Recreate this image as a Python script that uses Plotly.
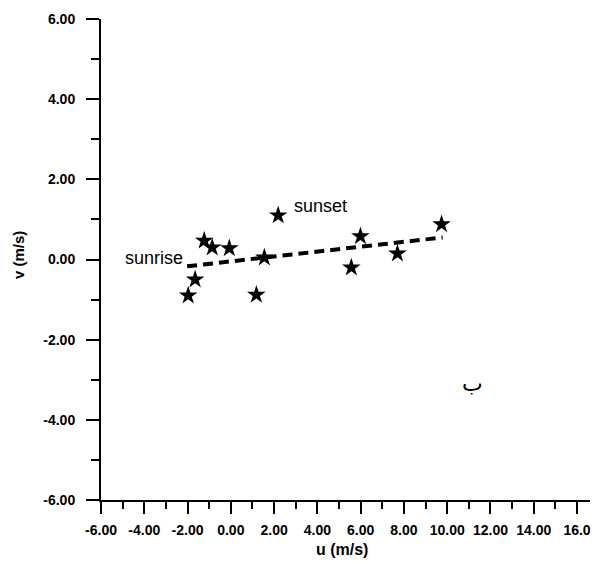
import plotly.graph_objects as go

# data
u_vals = [-1.97, -1.65, -1.23, -0.86, -0.07, 1.18, 1.55, 2.19, 5.57, 5.99, 7.70, 9.74]
v_vals = [-0.90, -0.50, 0.47, 0.30, 0.28, -0.88, 0.05, 1.10, -0.20, 0.58, 0.15, 0.88]
fit_u = [-2.02, 9.79]
fit_v = [-0.17, 0.55]

x_tickvals = [-6, -4, -2, 0, 2, 4, 6, 8, 10, 12, 14, 16]
x_ticktext = ["-6.00", "-4.00", "-2.00", "0.00", "2.00", "4.00", "6.00", "8.00",
              "10.00", "12.00", "14.00", "16.0"]
y_tickvals = [-6, -4, -2, 0, 2, 4, 6]
y_ticktext = ["-6.00", "-4.00", "-2.00", "0.00", "2.00", "4.00", "6.00"]

labels = ["sunrise", "sunset"]
label_u = [-3.55, 4.15]
label_v = [0.05, 1.33]

FONT = "Liberation Sans, Arial, sans-serif"

fig = go.Figure()
fig.add_trace(go.Scatter(x=fit_u, y=fit_v, mode="lines",
                         line=dict(color="black", width=4, dash="10px,6px"),
                         showlegend=False, hoverinfo="skip"))
fig.add_trace(go.Scatter(x=u_vals, y=v_vals, mode="markers",
                         marker=dict(symbol="star", size=14, color="black",
                                     line=dict(width=0)),
                         showlegend=False))

for t, xu, yv in zip(labels, label_u, label_v):
    fig.add_annotation(x=xu, y=yv, text=t, showarrow=False,
                       font=dict(family=FONT, size=18, color="black"))

fig.add_annotation(x=11.19, y=-3.1, text="ب", showarrow=False,
                   font=dict(family="DejaVu Sans", size=22, color="black"))

# axis titles
fig.add_annotation(xref="paper", yref="paper", x=(342 - 101) / 489, y=(500 - 549) / 481,
                   text="<b>u (m/s)</b>", showarrow=False, yanchor="middle",
                   font=dict(family=FONT, size=16, color="black"))
fig.add_annotation(xref="paper", yref="paper", x=(18 - 101) / 489, y=(500 - 255) / 481,
                   text="<b>v (m/s)</b>", showarrow=False, textangle=-90,
                   xanchor="center", yanchor="middle",
                   font=dict(family=FONT, size=15, color="black"))

fig.update_layout(
    width=592, height=562,
    margin=dict(l=101, r=2, t=19, b=62, autoexpand=False),
    plot_bgcolor="white", paper_bgcolor="white",
    font=dict(family=FONT, color="black"),
)
fig.update_xaxes(
    range=[-6, 16.6], showgrid=False, zeroline=False, automargin=False,
    showline=True, linecolor="black", linewidth=2,
    ticks="outside", ticklen=12, tickwidth=1.5, tickcolor="black",
    tickvals=x_tickvals, ticktext=x_ticktext, ticklabelstandoff=4,
    ticklabeloverflow="allow",
    tickfont=dict(family=FONT, size=14, color="black", weight="bold"),
    minor=dict(dtick=1, tick0=-6, ticks="outside", ticklen=7, tickcolor="black", showgrid=False),
)
fig.update_yaxes(
    range=[-6, 6], showgrid=False, zeroline=False, automargin=False,
    showline=True, linecolor="black", linewidth=2,
    ticks="outside", ticklen=13, tickwidth=1.5, tickcolor="black",
    tickvals=y_tickvals, ticktext=y_ticktext, ticklabelstandoff=8,
    tickfont=dict(family=FONT, size=14, color="black", weight="bold"),
    minor=dict(dtick=1, tick0=-6, ticks="outside", ticklen=8, tickcolor="black", showgrid=False),
)

fig.write_html("out.html",
               config={"displayModeBar": False},
               post_script="document.body.style.margin='0';document.body.style.overflow='hidden';")
